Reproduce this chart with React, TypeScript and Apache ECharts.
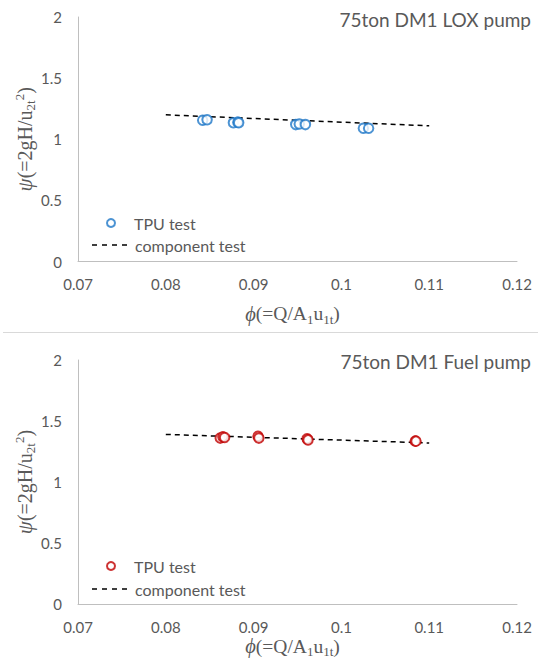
import React, { useEffect, useRef } from "react";
import * as echarts from "echarts";

// ---- data ----
const xTicks = [0.07, 0.08, 0.09, 0.1, 0.11, 0.12];
const yTicks = [0, 0.5, 1, 1.5, 2];

// 75ton DM1 LOX pump
const loxTpuPhi = [0.0842, 0.0847, 0.0877, 0.0882, 0.0883, 0.0948, 0.0952, 0.0959, 0.1025, 0.1031];
const loxTpuPsi = [1.155, 1.16, 1.135, 1.14, 1.135, 1.12, 1.125, 1.12, 1.09, 1.09];
const loxCompPhi = [0.08, 0.11];
const loxCompPsi = [1.2, 1.11];

// 75ton DM1 Fuel pump
const fuelTpuPhi = [0.0862, 0.0865, 0.0867, 0.0905, 0.0906, 0.0961, 0.0962, 0.1084, 0.1085];
const fuelTpuPsi = [1.36, 1.37, 1.365, 1.375, 1.36, 1.355, 1.345, 1.335, 1.335];
const fuelCompPhi = [0.08, 0.11];
const fuelCompPsi = [1.39, 1.32];

const titles = ["75ton DM1 LOX pump", "75ton DM1 Fuel pump"];
const seriesNames = ["TPU test", "component test"];

const zip = (a: number[], b: number[]) => a.map((v, i) => [v, b[i]]);

const GRAY = "#595959";
const SANS = "Lato, 'Open Sans', sans-serif";
const SERIF = "'Liberation Serif', 'DejaVu Serif', serif";
const DASH_ICON = "path://M0,0h5v1.6h-5zM10,0h5v1.6h-5zM20,0h5v1.6h-5zM30,0h5v1.6h-5z";

const mkRich = (main: number, small: number) => ({
  i: { fontFamily: SERIF, fontStyle: "italic", fontSize: main + 1, color: GRAY, lineHeight: 24 },
  sub: { fontFamily: SERIF, fontSize: small, color: GRAY, verticalAlign: "bottom", lineHeight: 24 },
  sup: { fontFamily: SERIF, fontSize: small, color: GRAY, verticalAlign: "top", lineHeight: 24 },
});

export default function App() {
  const ref = useRef<HTMLDivElement>(null);
  useEffect(() => {
    if (!ref.current) return;
    const chart = echarts.init(ref.current, null, { renderer: "svg" });
    const grids = [
      { left: 78, top: 17, width: 439, height: 244.5 },
      { left: 78, top: 360, width: 439, height: 244 },
    ];
    const xNameGaps = [40, 30];
    const mkX = (gi: number) => ({
      type: "value",
      gridIndex: gi,
      min: xTicks[0],
      max: xTicks[xTicks.length - 1],
      interval: 0.01,
      axisLine: { show: true, lineStyle: { color: "#bfbfbf", width: 1 } },
      axisTick: { show: false },
      splitLine: { show: false },
      axisLabel: {
        color: GRAY,
        fontFamily: SANS,
        fontSize: 15,
        margin: 15,
        formatter: (v: number) => String(parseFloat(v.toFixed(2))),
      },
      name: "{i|ϕ}(=Q/A{sub|1}u{sub|1t})",
      nameLocation: "middle",
      nameGap: xNameGaps[gi],
      nameMoveOverlap: false,
      nameTextStyle: { fontFamily: SERIF, fontSize: 19.5, color: GRAY, lineHeight: 24, padding: [0, 10, 0, 0], rich: mkRich(19.5, 13) },
    });
    const mkY = (gi: number) => ({
      type: "value",
      gridIndex: gi,
      min: yTicks[0],
      max: yTicks[yTicks.length - 1],
      interval: 0.5,
      axisLine: { show: true, lineStyle: { color: "#bfbfbf", width: 1 } },
      axisTick: { show: false },
      splitLine: { show: false },
      axisLabel: { color: GRAY, fontFamily: SANS, fontSize: 15, margin: 16 },
      name: "{i|ψ}(=2gH/u{sub|2t}{sup|2})",
      nameLocation: "middle",
      nameRotate: 90,
      nameGap: 41,
      nameMoveOverlap: false,
      nameTextStyle: { fontFamily: SERIF, fontSize: 20, color: GRAY, lineHeight: 24, rich: mkRich(20, 13) },
    });
    const legendTops = [
      [209, 231],
      [552, 575],
    ];
    const suffix = ["", "#2"];
    const legends: any[] = [];
    [0, 1].forEach((gi) => {
      legends.push({
        data: [seriesNames[0] + suffix[gi]],
        left: 101,
        top: legendTops[gi][0],
        itemWidth: 36,
        itemHeight: 8,
        selectedMode: false,
        formatter: (n: string) => n.replace("#2", ""),
        textStyle: { color: GRAY, fontFamily: SANS, fontSize: 16, lineHeight: 18 },
      });
      legends.push({
        data: [{ name: seriesNames[1] + suffix[gi], icon: DASH_ICON }],
        left: 87,
        top: legendTops[gi][1],
        itemWidth: 35,
        itemHeight: 14,
        selectedMode: false,
        formatter: (n: string) => n.replace("#2", ""),
        textStyle: { color: GRAY, fontFamily: SANS, fontSize: 16, lineHeight: 18, padding: [0, 0, 0, 3] },
      });
    });
    const tpuColors = ["#1F78C8", "#C00000"];
    const tpuData = [zip(loxTpuPhi, loxTpuPsi), zip(fuelTpuPhi, fuelTpuPsi)];
    const compData = [zip(loxCompPhi, loxCompPsi), zip(fuelCompPhi, fuelCompPsi)];
    const series: any[] = [];
    [0, 1].forEach((gi) => {
      series.push({
        type: "line",
        name: seriesNames[1] + suffix[gi],
        xAxisIndex: gi,
        yAxisIndex: gi,
        data: compData[gi],
        symbol: "none",
        showSymbol: false,
        lineStyle: { color: "#000", width: 1.5, type: [5, 4] },
        itemStyle: { color: "#000" },
        z: 2,
      });
      series.push({
        type: "scatter",
        name: seriesNames[0] + suffix[gi],
        xAxisIndex: gi,
        yAxisIndex: gi,
        data: tpuData[gi],
        symbol: "emptyCircle",
        symbolSize: 9.5,
        itemStyle: { color: tpuColors[gi], borderWidth: 1.3 },
        z: 3,
      });
    });
    chart.setOption({
      animation: false,
      backgroundColor: "#fff",
      title: [
        { text: titles[0], right: 7, top: 10, padding: 0, textStyle: { color: GRAY, fontFamily: SANS, fontSize: 19, fontWeight: "normal" } },
        { text: titles[1], right: 7, top: 352, padding: 0, textStyle: { color: GRAY, fontFamily: SANS, fontSize: 19, fontWeight: "normal" } },
      ],
      grid: grids,
      xAxis: [mkX(0), mkX(1)],
      yAxis: [mkY(0), mkY(1)],
      legend: legends,
      graphic: [
        { type: "line", shape: { x1: 3, y1: 332.5, x2: 538, y2: 332.5 }, style: { stroke: "#d9d9d9", lineWidth: 1 } },
      ],
      series,
    });
    return () => chart.dispose();
  }, []);
  return <div ref={ref} style={{ position: "absolute", left: 0, top: 0, width: 538, height: 670 }} />;
}
